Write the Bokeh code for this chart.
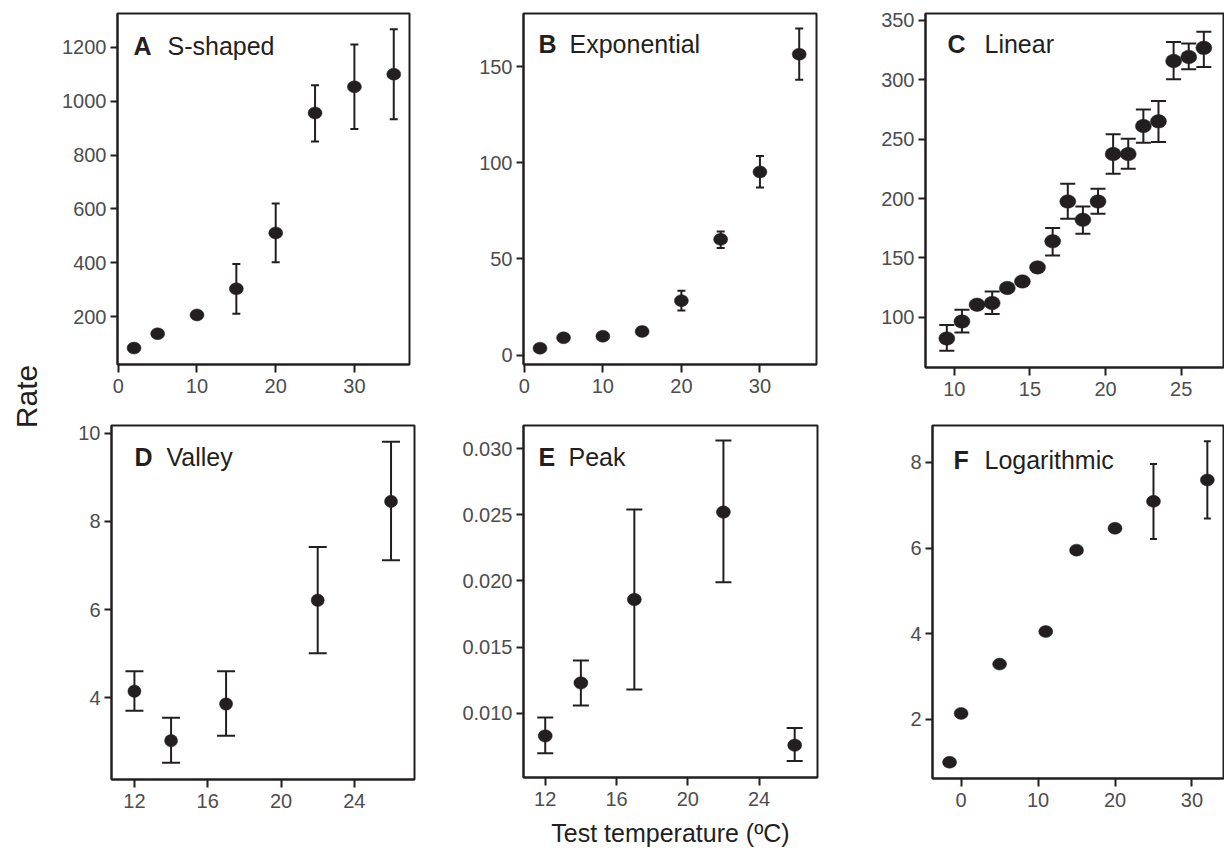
import math
from bokeh.plotting import figure
from bokeh.models import Range1d, FixedTicker, PrintfTickFormatter, Label, ColumnDataSource
from bokeh.layouts import row, column
from bokeh.core.properties import value
from bokeh.embed import file_html
from bokeh.resources import INLINE

INK = "#231f20"
TICK_GREY = "#4d4d4d"
FONT = "Liberation Sans"

# ---------------- data ----------------
A_temp = [2, 5, 10, 15, 20, 25, 30, 35]
A_rate = [84, 137, 207, 304, 511, 956, 1053, 1100]
A_err_temp = [15, 20, 25, 30, 35]
A_err_lo = [211, 402, 850, 897, 933]
A_err_hi = [396, 620, 1059, 1210, 1267]

B_temp = [2, 5, 10, 15, 20, 25, 30, 35]
B_rate = [3.6, 9.0, 9.8, 12.3, 28.3, 60.2, 95.3, 156.5]
B_err_temp = [15, 20, 25, 30, 35]
B_err_lo = [10.5, 23.2, 55.7, 87.2, 143.2]
B_err_hi = [14.5, 33.5, 64.3, 103.6, 169.9]

C_temp = [9.5, 10.5, 11.5, 12.5, 13.5, 14.5, 15.5, 16.5, 17.5,
          18.5, 19.5, 20.5, 21.5, 22.5, 23.5, 24.5, 25.5, 26.5]
C_rate = [82.3, 96.6, 110.7, 112.1, 124.8, 130.3, 142.1, 164.0, 197.5,
          182.1, 197.5, 237.4, 237.4, 261.0, 264.9, 315.7, 319.1, 326.7]
C_err_temp = [9.5, 10.5, 12.5, 16.5, 17.5, 18.5, 19.5, 20.5, 21.5, 22.5, 23.5, 24.5, 25.5, 26.5]
C_err_lo = [71.9, 87.4, 102.8, 152.0, 182.9, 170.3, 187.1, 220.8, 225.0, 247.0, 247.5, 300.3, 308.7, 310.7]
C_err_hi = [93.6, 106.5, 121.9, 175.3, 212.4, 193.3, 208.2, 254.0, 250.3, 274.8, 282.0, 331.7, 330.4, 340.3]

D_temp = [12, 14, 17, 22, 26]
D_rate = [4.15, 3.03, 3.86, 6.21, 8.45]
D_err_lo = [3.71, 2.53, 3.14, 5.01, 7.12]
D_err_hi = [4.60, 3.55, 4.60, 7.42, 9.80]

E_temp = [12, 14, 17, 22, 26]
E_rate = [0.0083, 0.0123, 0.0186, 0.0252, 0.0076]
E_err_lo = [0.0070, 0.0106, 0.0118, 0.0199, 0.0064]
E_err_hi = [0.0097, 0.0140, 0.0254, 0.0306, 0.0089]

F_temp = [-1.5, 0, 5, 11, 15, 20, 25, 32]
F_rate = [1.00, 2.14, 3.29, 4.05, 5.95, 6.46, 7.09, 7.59]
F_err_temp = [25, 32]
F_err_lo = [6.21, 6.69]
F_err_hi = [7.96, 8.49]

A_xticks, A_yticks = [0, 10, 20, 30], [200, 400, 600, 800, 1000, 1200]
B_xticks, B_yticks = [0, 10, 20, 30], [0, 50, 100, 150]
C_xticks, C_yticks = [10, 15, 20, 25], [100, 150, 200, 250, 300, 350]
D_xticks, D_yticks = [12, 16, 20, 24], [4, 6, 8, 10]
E_xticks, E_yticks = [12, 16, 20, 24], [0.010, 0.015, 0.020, 0.025, 0.030]
F_xticks, F_yticks = [0, 10, 20, 30], [2, 4, 6, 8]

X_LABEL = "Test temperature (ºC)"
Y_LABEL = "Rate"


def panel(temp, rate, etemp, elo, ehi, xr, yr, xticks, yticks, yfmt,
          geom, msize, cap, letter, word, toff):
    left, fw, right, top, fh, bottom = geom
    p = figure(frame_width=fw, frame_height=fh,
               min_border_left=left, min_border_right=right,
               min_border_top=top, min_border_bottom=bottom,
               x_range=Range1d(*xr), y_range=Range1d(*yr),
               output_backend="svg", toolbar_location=None,
               background_fill_color="white", border_fill_color="white")
    p.grid.visible = False
    p.outline_line_color = INK
    p.outline_line_width = 2
    p.outline_line_alpha = 1
    for ax in (p.xaxis[0], p.yaxis[0]):
        ax.axis_line_color = INK
        ax.axis_line_width = 2
        ax.major_tick_line_color = INK
        ax.major_tick_line_width = 2
        ax.major_tick_in = 0
        ax.minor_tick_line_color = None
        ax.major_label_text_font = FONT
        ax.major_label_text_font_size = "20px"
        ax.major_label_text_color = TICK_GREY
    p.xaxis.major_tick_out = 8
    p.xaxis.major_label_standoff = 6
    p.yaxis.major_tick_out = 7
    p.yaxis.major_label_standoff = 4
    p.xaxis.ticker = FixedTicker(ticks=xticks)
    p.yaxis.ticker = FixedTicker(ticks=yticks)
    p.xaxis.formatter = PrintfTickFormatter(format="%d")
    p.yaxis.formatter = PrintfTickFormatter(format=yfmt)

    esrc = ColumnDataSource(dict(x=etemp, lo=elo, hi=ehi))
    p.segment(x0="x", y0="lo", x1="x", y1="hi", source=esrc,
              line_color=INK, line_width=2)
    p.scatter(x="x", y="lo", source=esrc, marker="dash", size=cap,
              line_color=INK, line_width=2)
    p.scatter(x="x", y="hi", source=esrc, marker="dash", size=cap,
              line_color=INK, line_width=2)
    src = ColumnDataSource(dict(x=temp, y=rate))
    p.ellipse(x="x", y="y", width=msize[0], height=msize[1],
              width_units="screen", height_units="screen", source=src,
              fill_color=INK, line_color=INK, line_width=0.5)

    # panel titles, placed from offsets relative to the frame
    lx, wx, by = toff
    x0, x1 = xr
    y0, y1 = yr
    ty = y1 - by / fh * (y1 - y0)
    p.add_layout(Label(x=x0 + lx / fw * (x1 - x0), y=ty, text=letter,
                       text_font=FONT, text_font_size="25px", text_font_style="bold",
                       text_color=INK, text_baseline="alphabetic"))
    p.add_layout(Label(x=x0 + wx / fw * (x1 - x0), y=ty, text=word,
                       text_font=FONT, text_font_size="25px",
                       text_color=INK, text_baseline="alphabetic"))
    return p


pA = panel(A_temp, A_rate, A_err_temp, A_err_lo, A_err_hi, (-0.1, 37.0), (23, 1325),
           A_xticks, A_yticks, "%d", (69, 292, 31, 13, 351, 38), (14, 12), 8,
           "A", "S-shaped", (16, 50, 32))
pB = panel(B_temp, B_rate, B_err_temp, B_err_lo, B_err_hi, (-0.1, 37.2), (-4.9, 177.7),
           B_xticks, B_yticks, "%d", (83, 293, 34, 13, 351, 38), (14, 12), 8,
           "B", "Exponential", (15, 46, 30))
pC = panel(C_temp, C_rate, C_err_temp, C_err_lo, C_err_hi, (8.09, 27.8), (57.9, 355.6),
           C_xticks, C_yticks, "%d", (75, 298, 1, 13, 354, 35), (16, 13.5), 15,
           "C", "Linear", (22, 59, 30))
pD = panel(D_temp, D_rate, D_temp, D_err_lo, D_err_hi, (10.75, 27.28), (2.15, 10.17),
           D_xticks, D_yticks, "%d", (63, 303, 26, 23, 354, 41), (13, 12.5), 18,
           "D", "Valley", (23, 55, 31))
pE = panel(E_temp, E_rate, E_temp, E_err_lo, E_err_hi, (10.78, 27.28), (0.00516, 0.03174),
           E_xticks, E_yticks, "%.3f", (83, 294, 33, 22, 352, 74), (14, 12.5), 16,
           "E", "Peak", (15, 45, 31))
pE.xaxis.axis_label = X_LABEL
pE.xaxis.axis_label_text_font = FONT
pE.xaxis.axis_label_text_font_size = "25px"
pE.xaxis.axis_label_text_font_style = "normal"
pE.xaxis.axis_label_text_color = INK
pE.xaxis.axis_label_standoff = 10
pF = panel(F_temp, F_rate, F_err_temp, F_err_lo, F_err_hi, (-3.72, 34.1), (0.62, 8.86),
           F_xticks, F_yticks, "%d", (82, 291, 1, 21, 353, 44), (14, 12), 7,
           "F", "Logarithmic", (21, 52, 34))

H_TOTAL = 402 + 22 + 352 + 74
pR = figure(width=48, height=H_TOTAL, x_range=Range1d(0, 48), y_range=Range1d(0, H_TOTAL),
            output_backend="svg", toolbar_location=None, min_border=0,
            background_fill_color="white", border_fill_color="white")
pR.axis.visible = False
pR.grid.visible = False
pR.outline_line_color = None
pR.text(x=[26], y=[H_TOTAL - 396], text=[Y_LABEL], angle=math.pi / 2,
        text_align="center", text_baseline="middle",
        text_font=value(FONT), text_font_size="30px", text_color=INK)

layout = row(pR, column(row(pA, pB, pC), row(pD, pE, pF)))

open("out.html", "w").write(file_html(layout, INLINE))
